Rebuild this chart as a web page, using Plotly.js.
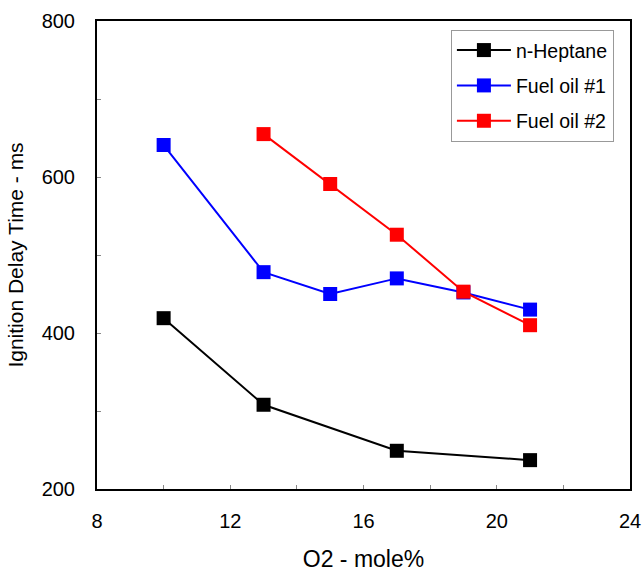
<!DOCTYPE html>
<html>
<head>
<meta charset="utf-8">
<script src="https://cdn.plot.ly/plotly-3.0.1.min.js"></script>
<style>html,body{margin:0;padding:0;background:#fff;}#chart{width:644px;height:572px;}</style>
</head>
<body>
<div id="chart"></div>
<script>
const heptaneX = [10, 13, 17, 21];
const heptaneY = [419, 308, 249, 237];
const fuel1X = [10, 13, 15, 17, 19, 21];
const fuel1Y = [641, 478, 450, 470, 452, 430];
const fuel2X = [13, 15, 17, 19, 21];
const fuel2Y = [655, 591, 526, 453, 410];
const seriesNames = ['n-Heptane', 'Fuel oil #1', 'Fuel oil #2'];
const xTickVals = [8, 12, 16, 20, 24];
const yTickVals = [200, 400, 600, 800];

function tr(x, y, name, color, g) {
  return {x: x, y: y, name: name, type: 'scatter', mode: 'lines+markers',
    legendgroup: g,
    line: {color: color, width: 2},
    marker: {symbol: 'square', size: 14, color: color}};
}
const data = [
  tr(heptaneX, heptaneY, seriesNames[0], '#000000', 'a'),
  tr(fuel1X, fuel1Y, seriesNames[1], '#0000ff', 'b'),
  tr(fuel2X, fuel2Y, seriesNames[2], '#ff0000', 'c')
];
const font = {family: 'Liberation Sans, Arial, sans-serif', color: '#000'};
const layout = {
  width: 644, height: 572,
  margin: {l: 97, r: 14, t: 21, b: 83},
  paper_bgcolor: '#fff', plot_bgcolor: '#fff',
  font: font,
  showlegend: true,
  legend: {x: 0.664, y: 0.981, xanchor: 'left', yanchor: 'top',
    bordercolor: '#999', borderwidth: 1, bgcolor: '#fff',
    font: {family: font.family, size: 19.5, color: '#000'},
    tracegroupgap: 7, itemwidth: 54},
  xaxis: {range: [8, 24], tickvals: xTickVals, ticktext: xTickVals.map(String),
    ticks: 'inside', ticklen: 4, tickcolor: '#888', tickwidth: 1,
    minor: {dtick: 2, ticks: 'inside', ticklen: 4, tickcolor: '#888', showgrid: false},
    showgrid: false, zeroline: false, showline: true, linecolor: '#000', linewidth: 2, mirror: true,
    tickfont: {size: 20}, ticklabelstandoff: 13,
    title: {text: 'O2 - mole%', font: {size: 23}, standoff: 24}},
  yaxis: {range: [200, 800], tickvals: yTickVals, ticktext: yTickVals.map(String),
    ticks: 'inside', ticklen: 4, tickcolor: '#888', tickwidth: 1,
    minor: {dtick: 100, ticks: 'inside', ticklen: 4, tickcolor: '#888', showgrid: false},
    showgrid: false, zeroline: false, showline: true, linecolor: '#000', linewidth: 2, mirror: true,
    tickfont: {size: 20}, ticklabelstandoff: 16,
    title: {text: 'Ignition Delay Time - ms', font: {size: 21}, standoff: 12}}
};
Plotly.newPlot('chart', data, layout, {displayModeBar: false, staticPlot: true});
</script>
</body>
</html>
